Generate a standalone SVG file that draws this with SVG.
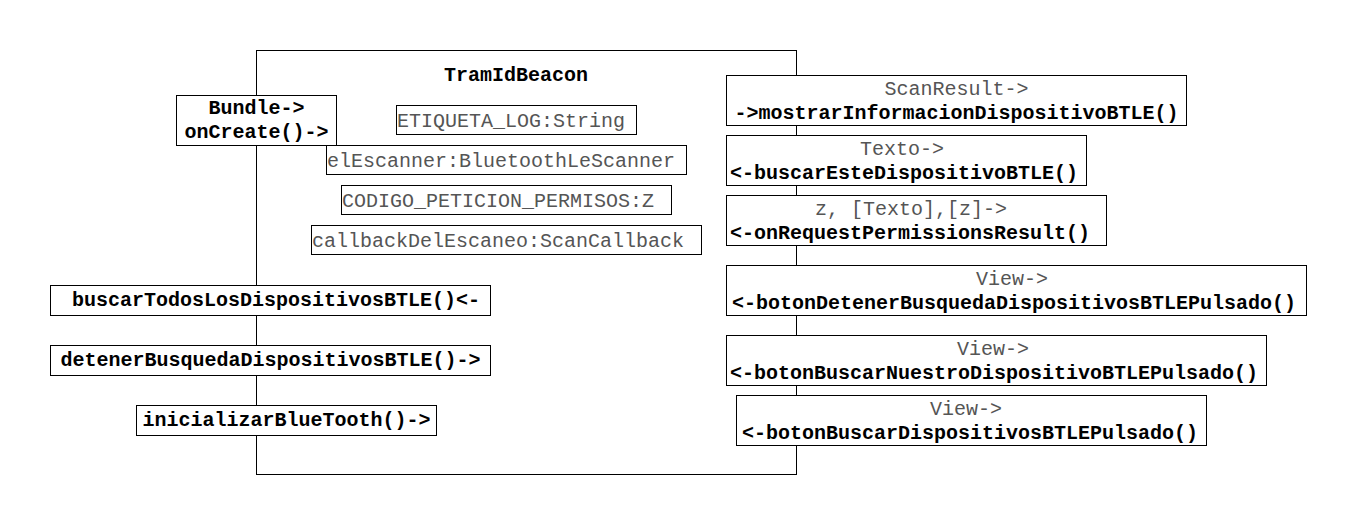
<svg xmlns="http://www.w3.org/2000/svg" width="1357" height="526" viewBox="0 0 1357 526">
<style>
  .box { fill: #ffffff; stroke: #000000; stroke-width: 1; }
  .b { font-family: "Liberation Mono", "Courier New", monospace; font-size: 20px; font-weight: bold; fill: #000000; }
  .r { font-family: "Liberation Mono", "Courier New", monospace; font-size: 20px; fill: #555555; }
  .c { text-anchor: middle; }
</style>
<rect width="1357" height="526" fill="#ffffff"/>
<g id="tramidbeacon">
  <rect class="box" x="256.5" y="50.5" width="540" height="424"/>
  <text class="b c" x="516" y="81">TramIdBeacon</text>
</g>
<g id="attr-etiqueta">
  <rect class="box" x="396.5" y="105.5" width="240" height="29"/>
  <text class="r" x="397" y="127">ETIQUETA_LOG:String</text>
</g>
<g id="attr-escanner">
  <rect class="box" x="326.5" y="145.5" width="360" height="29"/>
  <text class="r" x="327" y="167">elEscanner:BluetoothLeScanner</text>
</g>
<g id="attr-codigo">
  <rect class="box" x="341.5" y="185.5" width="330" height="29"/>
  <text class="r" x="342" y="207">CODIGO_PETICION_PERMISOS:Z</text>
</g>
<g id="attr-callback">
  <rect class="box" x="311.5" y="225.5" width="390" height="29"/>
  <text class="r" x="312" y="247">callbackDelEscaneo:ScanCallback</text>
</g>
<g id="oncreate">
  <rect class="box" x="176.5" y="95.5" width="160" height="50"/>
  <text class="b c" x="256.5" y="114">Bundle-&gt;</text>
  <text class="b c" x="256.5" y="138">onCreate()-&gt;</text>
</g>
<g id="buscar-todos">
  <rect class="box" x="50.5" y="285.5" width="440" height="30"/>
  <text class="b" x="72" y="306">buscarTodosLosDispositivosBTLE()&lt;-</text>
</g>
<g id="detener">
  <rect class="box" x="50.5" y="345.5" width="440" height="30"/>
  <text class="b c" x="270.5" y="366">detenerBusquedaDispositivosBTLE()-&gt;</text>
</g>
<g id="inicializar">
  <rect class="box" x="136.5" y="405.5" width="300" height="30"/>
  <text class="b c" x="286.5" y="426">inicializarBlueTooth()-&gt;</text>
</g>
<g id="mostrar">
  <rect class="box" x="726.5" y="75.5" width="460" height="50"/>
  <text class="r c" x="956.5" y="95">ScanResult-&gt;</text>
  <text class="b c" x="956.5" y="119">-&gt;mostrarInformacionDispositivoBTLE()</text>
</g>
<g id="buscar-este">
  <rect class="box" x="726.5" y="135.5" width="360" height="50"/>
  <text class="r c" x="902" y="155">Texto-&gt;</text>
  <text class="b c" x="904" y="179">&lt;-buscarEsteDispositivoBTLE()</text>
</g>
<g id="permisos">
  <rect class="box" x="726.5" y="195.5" width="380" height="50"/>
  <text class="r c" x="911" y="215">z, [Texto],[z]-&gt;</text>
  <text class="b c" x="910" y="239">&lt;-onRequestPermissionsResult()</text>
</g>
<g id="boton-detener">
  <rect class="box" x="726.5" y="265.5" width="580" height="50"/>
  <text class="r c" x="1012" y="285">View-&gt;</text>
  <text class="b c" x="1014" y="309">&lt;-botonDetenerBusquedaDispositivosBTLEPulsado()</text>
</g>
<g id="boton-nuestro">
  <rect class="box" x="726.5" y="335.5" width="540" height="50"/>
  <text class="r c" x="993" y="355">View-&gt;</text>
  <text class="b c" x="994" y="379">&lt;-botonBuscarNuestroDispositivoBTLEPulsado()</text>
</g>
<g id="boton-buscar">
  <rect class="box" x="736.5" y="395.5" width="470" height="50"/>
  <text class="r c" x="966" y="415">View-&gt;</text>
  <text class="b c" x="970" y="439">&lt;-botonBuscarDispositivosBTLEPulsado()</text>
</g>
</svg>
